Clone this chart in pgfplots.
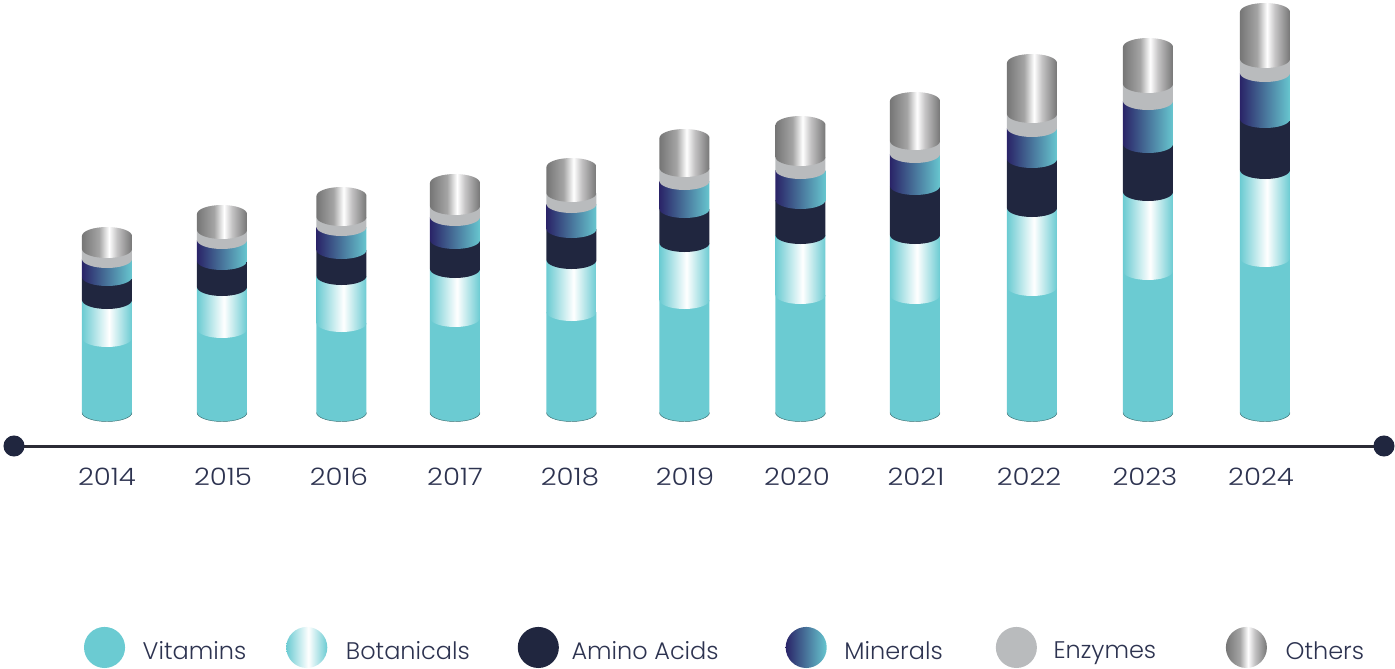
\documentclass[border=0pt]{standalone}
\usepackage{fontspec}
\setmainfont{Poppins Light}
\newfontfamily\tickfont{Poppins Light}[FakeStretch=1.15]
\usepackage{pgfplots}
\usepackage{pgfplotstable}
\pgfplotsset{compat=1.18}
\usetikzlibrary{arrows.meta}

\definecolor{vit}{HTML}{6BCBD2}
\definecolor{ami}{HTML}{20263F}
\definecolor{enz}{HTML}{B9BBBD}
\definecolor{minleft}{HTML}{2A2468}
\definecolor{minright}{HTML}{67C6CF}
\definecolor{txt}{HTML}{2D3350}
\definecolor{axisline}{HTML}{2B2B35}
\definecolor{othA}{HTML}{767676}
\definecolor{othB}{HTML}{A4A4A4}
\definecolor{othC}{HTML}{C4C3C4}

\pgfdeclarehorizontalshading{botshade}{100bp}{color(0bp)=(vit);color(25bp)=(vit);color(52bp)=(white);color(75bp)=(vit);color(100bp)=(vit)}
\pgfdeclarehorizontalshading{othshade}{100bp}{color(0bp)=(othA);color(25bp)=(othA);color(42bp)=(othB);color(52bp)=(white);color(60bp)=(othC);color(75bp)=(othA);color(100bp)=(othA)}

\tikzset{
  sVit/.style={fill=vit,draw=none},
  sBot/.style={shade,shading=botshade,draw=none},
  sAmi/.style={fill=ami,draw=none},
  sMin/.style={left color=minleft,right color=minright,draw=none},
  sEnz/.style={fill=enz,draw=none},
  sOth/.style={shade,shading=othshade,draw=none},
}

% one cylinder segment, 50px wide, \hh px high
\newcommand\segmark[2]{\pgfdeclareplotmark{#1}{\path[#2] (-18.75pt,0pt)
    arc[start angle=180,end angle=360,x radius=18.75pt,y radius=6.75pt]
    -- (18.75pt,\hh*0.75pt) -- (-18.75pt,\hh*0.75pt) -- cycle;}}
\segmark{segBot}{sBot}
\segmark{segAmi}{sAmi}
\segmark{segMin}{sMin}
\segmark{segEnz}{sEnz}
% bottom one has a thin dark rim, top one a rounded cap
\pgfdeclareplotmark{segVit}{%
  \path[sVit] (-18.75pt,0pt)
    arc[start angle=180,end angle=360,x radius=18.75pt,y radius=6.75pt]
    -- (18.75pt,\hh*0.75pt) -- (-18.75pt,\hh*0.75pt) -- cycle;
  \path[draw=vit!55!black,line width=0.35pt] (-18.75pt,0pt)
    arc[start angle=180,end angle=360,x radius=18.75pt,y radius=6.75pt];}
\pgfdeclareplotmark{segOth}{%
  \path[sOth] (-18.75pt,0pt)
    arc[start angle=180,end angle=360,x radius=18.75pt,y radius=6.75pt]
    -- (18.75pt,\hh*0.75pt)
    arc[start angle=0,end angle=180,x radius=18.75pt,y radius=6.75pt]
    -- cycle;}

% boundaries of the segments, px above the foot of the cylinder
\pgfplotstableread{
x      b0 b1    b2    b3    b4    b5    b6
107    0  74.5  112.5 135.5 153.5 163.5 176.5
222    0  83.5  125.5 151.5 172.5 182.5 198.5
341.5  0  89.5  136.5 162.5 185.5 195.5 216.5
455    0  94.5  143.5 172.5 195.5 206.5 229.5
571.5  0  100.5 152.5 183.5 208.5 219.5 245.5
684.5  0  112.5 169.5 203.5 231.5 244.5 274.5
800.5  0  117.5 177.5 212.5 242.5 255.5 287.5
915    0  117.5 177.5 226.5 258.5 271.5 311.5
1032   0  125.5 204.5 253.5 284.5 298.5 349.5
1148   0  141.5 220.5 268.5 311.5 328.5 365.5
1265   0  154.5 242.5 293.5 339.5 353.5 400.5
}\data

\pgfplotsset{
  seg/.style n args={3}{only marks,scatter,forget plot,mark=#1,
    scatter/@pre marker code/.code={},scatter/@post marker code/.code={},
    visualization depends on={\thisrow{#3}-\thisrow{#2} \as \hh}},
}
\newcommand\legimg[1]{\addlegendimage{legend image code/.code={\path[#1] (15.4pt,3pt) circle [radius=15.4pt];}}}

\begin{document}
\begin{tikzpicture}
\begin{axis}[
    scale only axis,
    width=1043.25pt, height=334.5pt,
    xmin=3.5, xmax=1394.5, ymin=-33.5, ymax=412.5,
    clip=false,
    axis x line=bottom, axis y line=none,
    axis line style={{Circle[length=15.75pt,color=ami]}-{Circle[length=15.75pt,color=ami]},line width=2.25pt,color=axisline},
    xtick={107,223,339,455,570,685,797,916,1029,1145,1261},
    xticklabels={2014,2015,2016,2017,2018,2019,2020,2021,2022,2023,2024},
    major tick length=0pt,
    xticklabel style={font=\tickfont\fontsize{18}{20}\selectfont,text=txt,yshift=-12.75pt},
    legend columns=6,
    legend cell align=left,
    legend style={
        at={(axis cs:84,-255.5)},anchor=south west,
        draw=none,fill=none,inner sep=0pt,outer sep=0pt,
        font=\fontsize{18}{20}\selectfont,text=txt,
        /tikz/column 1/.style={column sep=11.25pt},
        /tikz/column 2/.style={column sep=28pt},
        /tikz/column 3/.style={column sep=12pt},
        /tikz/column 4/.style={column sep=34pt},
        /tikz/column 5/.style={column sep=7.5pt},
        /tikz/column 6/.style={column sep=48.25pt},
        /tikz/column 7/.style={column sep=11.25pt},
        /tikz/column 8/.style={column sep=37.75pt},
        /tikz/column 9/.style={column sep=10.5pt},
        /tikz/column 10/.style={column sep=50.25pt},
        /tikz/column 11/.style={column sep=12pt},
    },
]
\legimg{sVit}\addlegendentry{Vitamins}
\legimg{sBot}\addlegendentry{Botanicals}
\legimg{sAmi}\addlegendentry{Amino Acids}
\legimg{sMin}\addlegendentry{Minerals}
\legimg{sEnz}\addlegendentry{Enzymes}
\legimg{sOth}\addlegendentry{Others}

\addplot[seg={segVit}{b0}{b1}] table[x=x,y=b0] {\data};
\addplot[seg={segBot}{b1}{b2}] table[x=x,y=b1] {\data};
\addplot[seg={segAmi}{b2}{b3}] table[x=x,y=b2] {\data};
\addplot[seg={segMin}{b3}{b4}] table[x=x,y=b3] {\data};
\addplot[seg={segEnz}{b4}{b5}] table[x=x,y=b4] {\data};
\addplot[seg={segOth}{b5}{b6}] table[x=x,y=b5] {\data};
\end{axis}
\pgfresetboundingbox
\path[use as bounding box] (-2.625pt,-166.5pt) rectangle (1043.625pt,334.5pt);
\end{tikzpicture}
\end{document}
